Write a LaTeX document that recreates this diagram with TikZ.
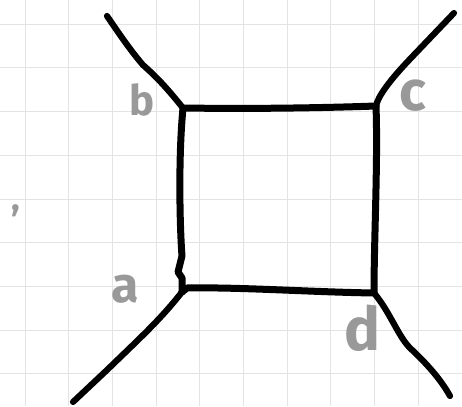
\documentclass[tikz,border=0pt]{standalone}
\usepackage{fontspec}
\setmainfont{Fira Sans}
\begin{document}
\begin{tikzpicture}[x=1pt,y=-1pt,
  gridline/.style={draw=black!11,line width=1pt},
  stroke/.style={draw=black,line width=7pt,line cap=round,line join=round},
  outer/.style={stroke,line width=6.2pt},
  lbl/.style={text=black!40,inner sep=0pt,font=\bfseries}]
\useasboundingbox (0,0) rectangle (462,406);
\fill[white] (0,0) rectangle (462,406);
\foreach \i in {0,...,10} \draw[gridline] ({25+43.7*\i},0) -- ({25+43.7*\i},406);
\foreach \i in {0,...,8} \draw[gridline] (0,{24.3+43.7*\i}) -- (462,{24.3+43.7*\i});
% corners
\coordinate (B) at (183,108);
\coordinate (C) at (376,106);
\coordinate (A) at (182,292);
\coordinate (D) at (374,293);
% outer ends
\coordinate (Bo) at (107,16);
\coordinate (Co) at (454,13);
\coordinate (Ao) at (73,402);
\coordinate (Do) at (450,396);
% box
\draw[stroke] (B) .. controls (250,109) and (320,108) .. (C);
\draw[stroke] (C) .. controls (378,160) and (374,240) .. (D);
\draw[stroke] (D) .. controls (310,292) and (240,287) .. (187,288) -- (A);
\draw[stroke] (B) .. controls (178,160) and (180,230) .. (182,256) -- (178,272) -- (182,278) -- (A);
% outer lines
\draw[outer] (B) .. controls (170,92) and (160,80) .. (143,65) .. controls (130,50) and (118,32) .. (Bo);
\draw[outer] (C) .. controls (378,96) and (390,80) .. (411,58) -- (Co);
\draw[outer] (A) .. controls (160,320) and (140,338) .. (107,370) -- (Ao);
\draw[outer] (D) .. controls (390,312) and (398,336) .. (410,348) .. controls (425,362) and (440,378) .. (Do);
% labels
\node[lbl,font=\bfseries\fontsize{42}{42}\selectfont] (lb) at (142,100) {b};
\node[lbl,font=\bfseries\fontsize{56}{56}\selectfont] (lc) at (413,96) {c};
\node[lbl,font=\bfseries\fontsize{50}{50}\selectfont] (la) at (125,289) {a};
\node[lbl,font=\bfseries\fontsize{60}{60}\selectfont] (ld) at (362,328) {d};
\node[lbl,font=\bfseries\fontsize{36}{36}\selectfont] (lcomma) at (16,211) {,};
\end{tikzpicture}
\end{document}
